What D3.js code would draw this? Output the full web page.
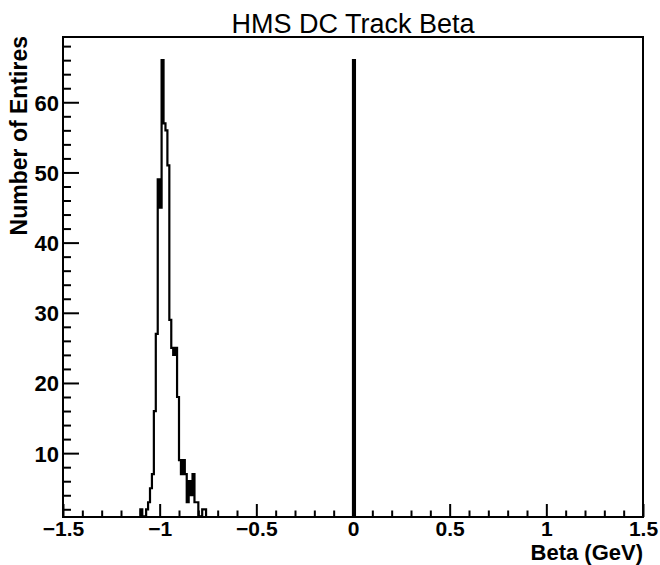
<!DOCTYPE html>
<html>
<head>
<meta charset="utf-8">
<script src="https://cdn.jsdelivr.net/npm/d3@7"></script>
<style>
  html, body { margin: 0; padding: 0; background: #fff; }
  text { font-family: "Liberation Sans", Arial, Helvetica, sans-serif; fill: #000; }
</style>
</head>
<body>
<svg id="chart" width="660" height="565"></svg>
<script>
// ---- data (histogram, bin width 0.01 over [-1.5, 1.5]) ----
const binLowEdges = [-1.10, -1.09, -1.08, -1.07, -1.06, -1.05, -1.04, -1.03, -1.02, -1.01,
                     -1.00, -0.99, -0.98, -0.97, -0.96, -0.95, -0.94, -0.93, -0.92, -0.91,
                     -0.90, -0.89, -0.88, -0.87, -0.86, -0.85, -0.84, -0.83, -0.82, -0.81,
                     -0.80, -0.79, -0.78, -0.77, 0.00];
const binCounts   = [2, 1, 1, 2, 3, 5, 7, 16, 27, 49,
                     45, 66, 57, 56, 51, 29, 25, 24, 25, 18,
                     9, 7, 9, 7, 3, 6, 4, 7, 3, 3,
                     1, 1, 2, 2, 66];
const xTickValues = [-1.5, -1, -0.5, 0, 0.5, 1, 1.5];
const yTickValues = [10, 20, 30, 40, 50, 60];
const titleText = "HMS DC Track Beta";
const xTitle = "Beta (GeV)";
const yTitle = "Number of Entires";

const xMin = -1.5, xMax = 1.5, nBins = 300, binW = (xMax - xMin) / nBins;
const yMin = 0.9, yMax = 69.3;

// ---- layout ----
const frame = { left: 63, right: 643, top: 37, bottom: 517 };
const svg = d3.select("#chart");

const x = d3.scaleLinear().domain([xMin, xMax]).range([frame.left, frame.right]);
const y = d3.scaleLinear().domain([yMin, yMax]).range([frame.bottom, frame.top]);

// full bin contents
const contents = new Array(nBins).fill(0);
binLowEdges.forEach((lo, i) => {
  const idx = Math.round((lo - xMin) / binW);
  contents[idx] = binCounts[i];
});

svg.append("defs").append("clipPath").attr("id", "clip")
  .append("rect")
  .attr("x", frame.left).attr("y", frame.top)
  .attr("width", frame.right - frame.left).attr("height", frame.bottom - frame.top);

// histogram outline
let p = d3.path();
p.moveTo(x(xMin), y(yMin));
contents.forEach((v, i) => {
  const lo = xMin + i * binW, hi = lo + binW;
  const yy = y(Math.max(v, yMin));
  p.lineTo(x(lo), yy);
  p.lineTo(x(hi), yy);
});
p.lineTo(x(xMax), y(yMin));

svg.append("path")
  .attr("d", p.toString())
  .attr("clip-path", "url(#clip)")
  .attr("fill", "none")
  .attr("stroke", "#000")
  .attr("stroke-width", 2.2)
  .attr("stroke-linejoin", "miter");

// frame
svg.append("rect")
  .attr("x", frame.left).attr("y", frame.top)
  .attr("width", frame.right - frame.left).attr("height", frame.bottom - frame.top)
  .attr("fill", "none").attr("stroke", "#000").attr("stroke-width", 2);

// x axis ticks (inside, pointing up)
const fmt = v => (v < 0 ? "\u2212" : "") + d3.format("")(Math.abs(v));
const xAxis = d3.axisBottom(x).tickValues(xTickValues).tickSize(-13).tickFormat(fmt);
const gx = svg.append("g").attr("transform", `translate(0,${frame.bottom})`).call(xAxis);
gx.select(".domain").remove();
gx.selectAll(".tick line").attr("stroke", "#000").attr("stroke-width", 2);
gx.selectAll(".tick text").attr("font-size", 21).attr("font-weight", "bold")
  .attr("font-family", "Liberation Sans, Arial, sans-serif").attr("dy", 0).attr("y", 18.5);

const xMinor = d3.range(-15, 16).map(k => k / 10).filter(v => Math.abs(Math.round(v * 2) - v * 2) > 1e-6);
const gxm = svg.append("g").attr("transform", `translate(0,${frame.bottom})`)
  .call(d3.axisBottom(x).tickValues(xMinor).tickSize(-6.5).tickFormat(""));
gxm.select(".domain").remove();
gxm.selectAll(".tick line").attr("stroke", "#000").attr("stroke-width", 2);

// y axis ticks (inside, pointing right)
const yAxis = d3.axisLeft(y).tickValues(yTickValues).tickSize(-16).tickFormat(d3.format("d"));
const gy = svg.append("g").attr("transform", `translate(${frame.left},0)`).call(yAxis);
gy.select(".domain").remove();
gy.selectAll(".tick line").attr("stroke", "#000").attr("stroke-width", 2);
gy.selectAll(".tick text").attr("font-size", 22).attr("font-weight", "bold")
  .attr("font-family", "Liberation Sans, Arial, sans-serif").attr("x", -4).attr("dy", "0.36em");

const yMinor = d3.range(2, 70, 2).filter(v => v % 10 !== 0);
const gym = svg.append("g").attr("transform", `translate(${frame.left},0)`)
  .call(d3.axisLeft(y).tickValues(yMinor).tickSize(-8).tickFormat(""));
gym.select(".domain").remove();
gym.selectAll(".tick line").attr("stroke", "#000").attr("stroke-width", 2);

// titles
svg.append("text").attr("x", 353).attr("y", 33).attr("text-anchor", "middle")
  .attr("font-size", 27).text(titleText);

svg.append("text").attr("x", frame.right).attr("y", 559.5).attr("text-anchor", "end")
  .attr("font-size", 22).attr("font-weight", "bold").text(xTitle);

svg.append("text").attr("transform", `translate(27,${36}) rotate(-90)`)
  .attr("text-anchor", "end").attr("font-size", 23).attr("font-weight", "bold").text(yTitle);
</script>
</body>
</html>
